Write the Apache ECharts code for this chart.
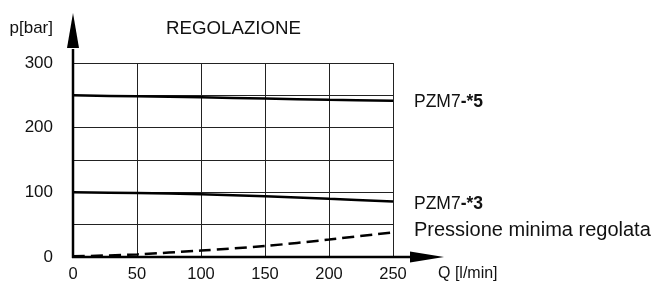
<!DOCTYPE html>
<html>
<head>
<meta charset="utf-8">
<script src="https://cdn.jsdelivr.net/npm/echarts@6/dist/echarts.min.js"></script>
<style>
  html, body { margin: 0; padding: 0; background: #fff; }
  #chart { width: 654px; height: 286px; }
</style>
</head>
<body>
<div id="chart"></div>
<script>
const flow = [0, 50, 100, 150, 200, 250]
const pzm5 = [250, 248.5, 247, 245, 243, 241.5]
const pzm3 = [100, 99, 97, 94, 90, 86]
const pMin = [1, 4, 10, 17, 27, 38]
const yLabels = [0, 100, 200, 300]

const font = 'Liberation Sans, Arial, sans-serif'
const ink = '#111'

const chart = echarts.init(document.getElementById('chart'))

const pairs = (ys) => flow.map((x, i) => [x, ys[i]])

const lineSeries = (name, ys, label, dashed, dy) => ({
  name,
  type: 'line',
  data: pairs(ys),
  smooth: 0.3,
  symbol: 'none',
  lineStyle: { color: '#000', width: 2.5, type: dashed ? [12, 6] : 'solid' },
  endLabel: {
    show: true,
    formatter: label,
    distance: 21,
    offset: [0, dy],
    fontFamily: font,
    color: ink,
    rich: {
      n: { fontSize: 17.5, fontFamily: font, color: ink },
      b: { fontSize: 17.5, fontFamily: font, color: ink, fontWeight: 'bold' },
      big: { fontSize: 20, fontFamily: font, color: ink }
    }
  }
})

chart.setOption({
  animation: false,
  backgroundColor: '#fff',
  title: {
    text: 'REGOLAZIONE',
    left: 161,
    top: 14,
    textStyle: { fontFamily: font, fontSize: 18.7, fontWeight: 'normal', color: ink }
  },
  grid: { left: 73, right: 261, top: 63, bottom: 29 },
  xAxis: {
    type: 'value',
    min: 0,
    max: 250,
    interval: 50,
    name: 'Q [l/min]',
    nameLocation: 'end',
    nameGap: 45,
    nameTextStyle: { fontFamily: font, fontSize: 16, color: ink, align: 'left', verticalAlign: 'top', padding: [9, 0, 0, 0] },
    axisLine: { show: false },
    axisTick: { show: false },
    axisLabel: { margin: 9, fontFamily: font, fontSize: 16.5, color: ink },
    splitLine: { show: true, lineStyle: { color: '#222', width: 1 } }
  },
  yAxis: {
    type: 'value',
    min: 0,
    max: 300,
    interval: 50,
    name: 'p[bar]',
    nameLocation: 'end',
    nameGap: 35,
    nameTextStyle: { fontFamily: font, fontSize: 17, color: ink, align: 'right', verticalAlign: 'middle', padding: [0, 20, 0, 0] },
    axisLine: { show: false },
    axisTick: { show: false },
    axisLabel: {
      margin: 20,
      fontFamily: font,
      fontSize: 17,
      color: ink,
      formatter: (v) => (yLabels.includes(v) ? String(v) : '')
    },
    splitLine: { show: true, lineStyle: { color: '#222', width: 1 } }
  },
  series: [
    lineSeries('PZM7-*5', pzm5, '{n|PZM7}{b|-*5}', false, 1),
    lineSeries('PZM7-*3', pzm3, '{n|PZM7}{b|-*3}', false, 3),
    lineSeries('Pressione minima regolata', pMin, '{big|Pressione minima regolata}', true, -2)
  ]
})

// axis lines with arrows, placed from the chart's own scale
const origin = chart.convertToPixel({ gridIndex: 0 }, [0, 0])
const yTop = chart.convertToPixel({ gridIndex: 0 }, [0, 300])
const xEnd = chart.convertToPixel({ gridIndex: 0 }, [250, 0])
const yHead = yTop[1] - 15
const xHead = xEnd[0] + 17

chart.setOption({
  graphic: [
    { type: 'line', shape: { x1: origin[0], y1: origin[1] + 1, x2: origin[0], y2: yHead + 1 }, style: { stroke: '#000', lineWidth: 2.5 }, z: 10 },
    { type: 'polygon', shape: { points: [[origin[0] - 6, yHead], [origin[0] + 6, yHead], [origin[0], yHead - 35]] }, style: { fill: '#000' }, z: 10 },
    { type: 'line', shape: { x1: origin[0] - 1, y1: origin[1], x2: xHead, y2: origin[1] }, style: { stroke: '#000', lineWidth: 2.5 }, z: 10 },
    { type: 'polygon', shape: { points: [[xHead, origin[1] - 5.5], [xHead, origin[1] + 5.5], [xHead + 34, origin[1]]] }, style: { fill: '#000' }, z: 10 }
  ]
})
</script>
</body>
</html>
